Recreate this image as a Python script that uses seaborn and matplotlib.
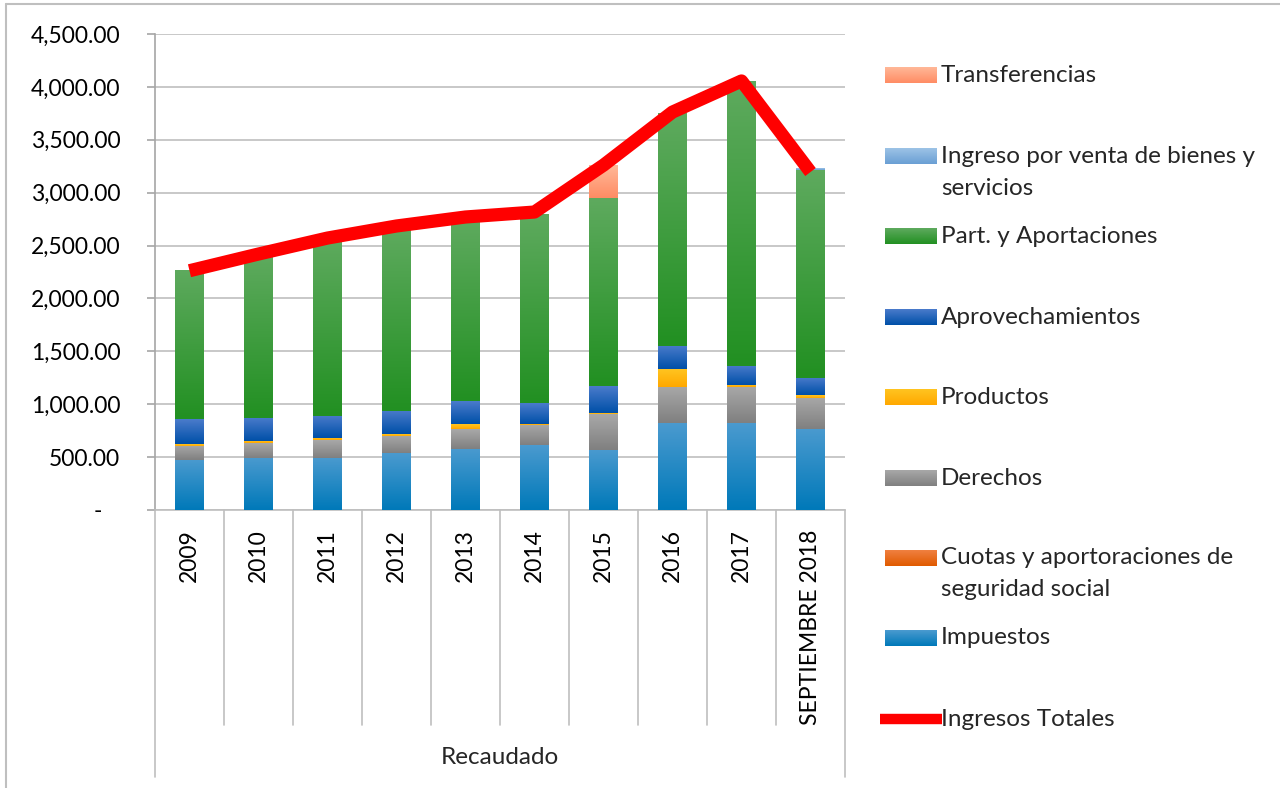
import numpy as np
import seaborn as sns
import matplotlib
matplotlib.use("Agg")
from matplotlib import pyplot as plt
from matplotlib.colors import LinearSegmentedColormap
from matplotlib.patches import Rectangle
from matplotlib.ticker import FuncFormatter

# data
years = ["2009", "2010", "2011", "2012", "2013", "2014", "2015", "2016", "2017", "SEPTIEMBRE 2018"]
impuestos = [473, 494, 495, 536, 577, 614, 570, 822, 822, 766]
cuotas = [0, 0, 0, 0, 0, 0, 0, 0, 0, 0]
derechos = [135, 139, 167, 166, 189, 192, 340, 341, 341, 296]
productos = [16, 19, 19, 16, 47, 10, 7, 170, 19, 25]
aprovechamientos = [236, 218, 208, 218, 217, 196, 255, 220, 182, 164]
part_aportaciones = [1410, 1540, 1681, 1734, 1720, 1788, 1781, 2203, 2692, 1966]
venta_bienes = [0, 0, 0, 0, 0, 0, 0, 0, 0, 16]
transferencias = [0, 0, 0, 0, 0, 0, 308, 0, 0, 0]
ingresos_totales = [2262, 2420, 2571, 2685, 2770, 2817, 3260, 3762, 4056, 3195]

# stack order bottom -> top, with gradient (top, bottom) colours
layers = [
    ("Impuestos", impuestos, "#4A9ACF", "#0079B9"),
    ("Cuotas y aportoraciones de seguridad social", cuotas, "#F08040", "#E05A00"),
    ("Derechos", derechos, "#A8A8A8", "#808080"),
    ("Productos", productos, "#FFC420", "#FFA800"),
    ("Aprovechamientos", aprovechamientos, "#4A7BCB", "#0050A8"),
    ("Part. y Aportaciones", part_aportaciones, "#5EAA5E", "#229022"),
    ("Ingreso por venta de bienes y servicios", venta_bienes, "#9DC3E6", "#6A9FD4"),
    ("Transferencias", transferencias, "#FFB898", "#FF8C64"),
]

sns.set_theme(style="white")
plt.rcParams["font.family"] = ["Lato", "DejaVu Sans"]
grid_col = "#BFBFBF"
fs = 17.5


def gradient(ax, x0, y0, w, h, c_top, c_bot, z, clip=None):
    cmap = LinearSegmentedColormap.from_list("g", [c_bot, c_top])
    im = ax.imshow(np.linspace(0, 1, 64).reshape(-1, 1), extent=[x0, x0 + w, y0, y0 + h],
                   origin="lower", cmap=cmap, aspect="auto", zorder=z, interpolation="bilinear")
    if clip is not None:
        im.set_clip_path(clip)
    return im


fig = plt.figure(figsize=(12.8, 7.88), dpi=100)
ax = fig.add_axes([155 / 1280, 1 - 510 / 788, 690 / 1280, 476 / 788])

x = np.arange(len(years))
bottom = np.zeros(len(years))
for name, vals, ctop, cbot in layers:
    vals = np.array(vals, dtype=float)
    bars = ax.bar(x, vals, width=0.41, bottom=bottom, color=cbot, linewidth=0, zorder=3)
    for p in bars.patches:
        if p.get_height() > 0:
            gradient(ax, p.get_x(), p.get_y(), p.get_width(), p.get_height(), ctop, cbot, 3.5, clip=p)
    bottom += vals

sns.lineplot(x=x, y=ingresos_totales, ax=ax, color="#FF0000", linewidth=9.5,
             solid_capstyle="butt", solid_joinstyle="round", legend=False, zorder=5)

ax.set_xlim(-0.5, len(years) - 0.5)
ax.set_ylim(0, 4500)
ax.set_yticks(np.arange(0, 4501, 500))
ax.yaxis.set_major_formatter(FuncFormatter(lambda v, p: "-   " if v == 0 else "{:,.2f}".format(v)))
ax.yaxis.grid(True, color=grid_col, linewidth=1.2, zorder=0)
ax.xaxis.grid(False)
ax.set_axisbelow(True)
for s in ["top", "right"]:
    ax.spines[s].set_visible(False)
ax.spines["left"].set_color("#A6A6A6")
ax.spines["bottom"].set_color(grid_col)
ax.spines["left"].set_linewidth(1.2)
ax.spines["bottom"].set_linewidth(1.2)
ax.tick_params(axis="y", left=True, length=6, width=1.2, color="#A6A6A6", pad=19,
               labelsize=16.5, labelcolor="black")
ax.set_xticks(x)
ax.set_xticklabels(years, rotation=90, fontsize=16.5, color="black", va="top")
ax.tick_params(axis="x", bottom=False, pad=8)

# category separators below the axis
for k in range(len(years) + 1):
    ylow = -0.56 if k in (0, len(years)) else -0.452
    ax.plot([k - 0.5, k - 0.5], [0, ylow], transform=ax.get_xaxis_transform(),
            color=grid_col, linewidth=1.2, clip_on=False)
ax.text(0.5, -0.52, "Recaudado", transform=ax.transAxes, ha="center", va="center", fontsize=fs)

# overlay in pixel coordinates for legend and frame
ov = fig.add_axes([0, 0, 1, 1], zorder=10)
ov.set_xlim(0, 1280)
ov.set_ylim(0, 788)
ov.axis("off")
ov.patch.set_alpha(0)
ov.plot([6, 1280], [788 - 4, 788 - 4], color="#BFBFBF", linewidth=1.5)
ov.plot([6, 6], [788 - 4, 0], color="#BFBFBF", linewidth=1.5)

legend_rows = [
    ("Transferencias", 75),
    ("Ingreso por venta de bienes y servicios", 156),
    ("Part. y Aportaciones", 236),
    ("Aprovechamientos", 317),
    ("Productos", 397),
    ("Derechos", 478),
    ("Cuotas y aportoraciones de seguridad social", 558),
    ("Impuestos", 638),
]
wrapped = {
    "Ingreso por venta de bienes y servicios": ["Ingreso por venta de bienes y", "servicios"],
    "Cuotas y aportoraciones de seguridad social": ["Cuotas y aportoraciones de", "seguridad social"],
}
colors = {name: (ct, cb) for name, _, ct, cb in layers}
for name, py in legend_rows:
    ct, cb = colors[name]
    yb = 788 - py - 8
    ov.add_patch(Rectangle((885, yb), 52, 16, facecolor=cb, linewidth=0))
    gradient(ov, 885, yb, 52, 16, ct, cb, 11)
    lines = wrapped.get(name, [name])
    for i, t in enumerate(lines):
        ov.text(941, 788 - py - 32 * i, t, fontsize=fs, va="center", ha="left")
ov.plot([880, 942], [788 - 719, 788 - 719], color="#FF0000", linewidth=7.5, solid_capstyle="butt")
ov.text(941, 788 - 719, "Ingresos Totales", fontsize=fs, va="center", ha="left")
ov.set_xlim(0, 1280)
ov.set_ylim(0, 788)

fig.savefig("out.png", dpi=100)
